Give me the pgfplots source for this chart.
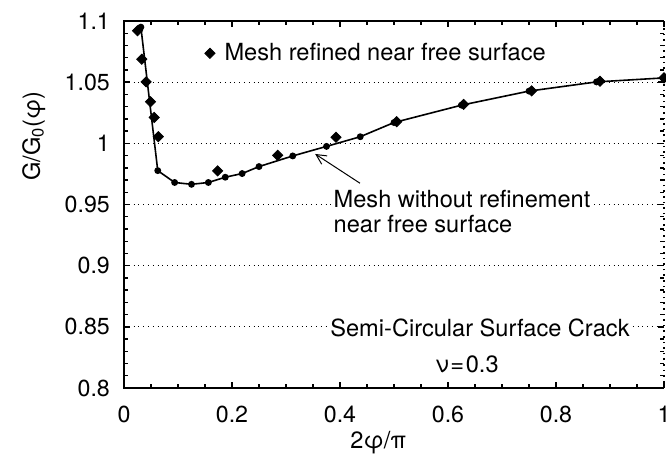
\documentclass[border=0pt]{standalone}
\usepackage{pgfplots}
\pgfplotsset{compat=1.18}
\usepackage{pgfplotstable}
\usepackage{fontspec}
\setmainfont{TeX Gyre Heros}
\usetikzlibrary{arrows.meta}

% Mesh refined near the free surface (diamonds)
\pgfplotstableread{
x      y
0.025  1.092
0.033  1.0688
0.041  1.0503
0.049  1.034
0.056  1.0212
0.0636 1.0054
0.1735 0.9775
0.2846 0.9902
0.3926 1.0049
0.505  1.0177
0.629  1.0318
0.755  1.0429
0.8815 1.0508
1.0    1.0535
}\refined

% Mesh without refinement near the free surface (line with dots)
\pgfplotstableread{
x       y
0.03125 1.095
0.0625  0.9777
0.09375 0.9680
0.125   0.9665
0.15625 0.9680
0.1875  0.9723
0.21875 0.9753
0.25    0.9810
0.3125  0.9897
0.375   0.9975
0.4375  1.0054
0.5     1.0170
0.625   1.0312
0.75    1.0427
0.875   1.0502
1.0     1.0535
}\coarse

\newcommand\annot{\fontsize{11.8}{12.5}\selectfont}

\begin{document}
\fontsize{11.6}{13.8}\selectfont
\begin{tikzpicture}
\clip (-62pt,-34pt) rectangle (271pt,194pt);
\begin{axis}[
  at={(0,0)}, anchor=south west,
  scale only axis, width=270pt, height=183.5pt,
  xmin=0, xmax=1, ymin=0.8, ymax=1.1,
  xtick={0,0.2,0.4,0.6,0.8,1},
  ytick={0.8,0.85,0.9,0.95,1,1.05,1.1},
  minor x tick num=3, minor y tick num=4,
  tick align=inside,
  major tick length=3pt, minor tick length=1.8pt,
  tick style={black, line width=0.7pt},
  ymajorgrids,
  grid style={dotted, black, line width=0.5pt},
  axis line style={draw=none},
  /pgf/number format/assume math mode=true,
  yticklabel style={xshift=-3pt},
  xticklabel style={yshift=-5pt},
  clip=false,
  legend style={draw=none, fill=none, at={(rel axis cs:0.149,0.912)},
    anchor=west, inner sep=0pt, nodes={inner sep=2pt}, font=\annot,
    /tikz/every odd column/.append style={column sep=2.75pt}},
  legend cell align=left,
  legend image code/.code={\draw[#1] plot coordinates {(0pt,0pt)};},
]
\addplot[black, line width=0.8pt, mark=*, mark size=1.3pt, forget plot]
  table[x=x, y=y] {\coarse};
\addplot[only marks, mark=square*, mark size=1.8pt,
  mark options={rotate=45, fill=black, draw=black}]
  table[x=x, y=y] {\refined};
\addlegendentry{Mesh refined near free surface}

% frame: solid on three sides, dotted on the right
\draw[line width=1pt] (rel axis cs:1,1) -- (rel axis cs:0,1)
  -- (rel axis cs:0,0) -- (rel axis cs:1,0);
\draw[dotted, line width=0.8pt] (rel axis cs:1,0) -- (rel axis cs:1,1);

\node[fill=white, inner sep=0.5pt, anchor=base west, font=\annot]
  at (axis cs:0.3857,0.9478) {Mesh without refinement};
\node[inner sep=0.5pt, anchor=base west, font=\annot]
  at (axis cs:0.3857,0.9274) {near free surface};
\draw[-{Straight Barb[length=5pt,width=5pt]}, line width=0.5pt]
  (axis cs:0.437,0.9674) -- (axis cs:0.354,0.9913);

\node[fill=white, inner sep=0.5pt, anchor=base west, font=\annot]
  at (axis cs:0.3796,0.8418) {Semi-Circular Surface Crack};
\node[inner sep=0pt, anchor=base west, font=\annot]
  at (axis cs:0.5759,0.813) {ν\kern0.8pt=\kern0.8pt0.3};

\node[rotate=90, anchor=base, font=\annot]
  at ([xshift=-42pt]rel axis cs:0,0.687) {G/G\textsubscript{0}(φ)};
\node[anchor=base west, inner sep=0pt, font=\annot]
  at ([yshift=-30.15pt]rel axis cs:0.4185,0) {2φ/π};
\end{axis}
\end{tikzpicture}
\end{document}
